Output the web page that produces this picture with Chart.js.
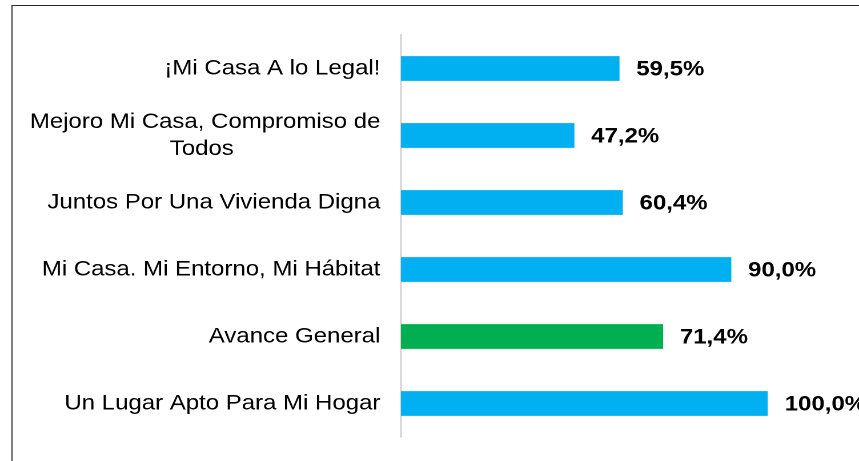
<!DOCTYPE html>
<html><head><meta charset="utf-8">
<script src="https://cdn.jsdelivr.net/npm/chart.js@4/dist/chart.umd.min.js"></script>
<style>
html,body{margin:0;padding:0;background:#fff;overflow:hidden;}
body{width:859px;height:461px;position:relative;}
#frame{position:absolute;left:11px;top:5px;width:900px;height:500px;border-left:2px solid #808080;border-top:1px solid #262626;}
#wrap{position:absolute;left:0;top:0;width:752px;height:461px;transform-origin:0 0;transform:scaleX(1.14229);}
</style></head><body>
<div id="frame"></div>
<div id="wrap"><canvas id="c"></canvas></div>
<script>
const categories = [
  '¡Mi Casa A lo Legal!',
  ['Mejoro Mi Casa, Compromiso de', 'Todos'],
  'Juntos Por Una Vivienda Digna',
  'Mi Casa. Mi Entorno, Mi Hábitat',
  'Avance General',
  'Un Lugar Apto Para Mi Hogar'
];
const values = [59.5, 47.2, 60.4, 90.0, 71.4, 100.0];
const highlightCategory = 'Avance General';

const BLUE = '#00B0F0', GREEN = '#00B050';
const FONT = '"Liberation Sans", Arial, sans-serif';
const colors = categories.map(c => c === highlightCategory ? GREEN : BLUE);

const mctx = document.createElement('canvas').getContext('2d');
mctx.font = '21px ' + FONT;
function centerLines(lines) {
  const w = lines.map(l => mctx.measureText(l).width);
  const max = Math.max(...w);
  const sp = mctx.measureText(' ').width;
  return lines.map((l, i) => l + ' '.repeat(Math.max(0, Math.round((max - w[i]) / 2 / sp))));
}

const valueLabels = {
  id: 'valueLabels',
  afterDatasetsDraw(chart) {
    const ctx = chart.ctx;
    const meta = chart.getDatasetMeta(0);
    ctx.save();
    ctx.font = 'bold 21px ' + FONT;
    ctx.fillStyle = '#000';
    ctx.textAlign = 'left';
    ctx.textBaseline = 'middle';
    meta.data.forEach((bar, i) => {
      const v = chart.data.datasets[0].data[i];
      ctx.fillText(v.toFixed(1).replace('.', ',') + '%', bar.x + 15, bar.y + 1);
    });
    ctx.restore();
  }
};

new Chart(document.getElementById('c'), {
  type: 'bar',
  data: {
    labels: categories,
    datasets: [{
      data: values,
      backgroundColor: colors,
      borderWidth: 0,
      barThickness: 24
    }]
  },
  options: {
    indexAxis: 'y',
    responsive: true,
    maintainAspectRatio: false,
    animation: false,
    devicePixelRatio: 2,
    layout: { padding: { left: 0, right: 80, top: 35, bottom: 24 } },
    plugins: { legend: { display: false }, tooltip: { enabled: false } },
    scales: {
      x: { display: false, min: 0, max: 100 },
      y: {
        afterFit(s) { s.width = 351; s.paddingTop = 0; s.paddingBottom = 0; },
        grid: { display: false, drawTicks: false, tickLength: 0 },
        border: { display: true, color: '#d9d9d9', width: 1.9 },
        ticks: {
          color: '#000',
          padding: 18,
          font: { family: FONT, size: 21, lineHeight: 1.286 },
          callback: function (value) {
            const lbl = this.getLabelForValue(value);
            return Array.isArray(lbl) ? centerLines(lbl) : lbl;
          }
        }
      }
    }
  },
  plugins: [valueLabels]
});
</script>
</body></html>
